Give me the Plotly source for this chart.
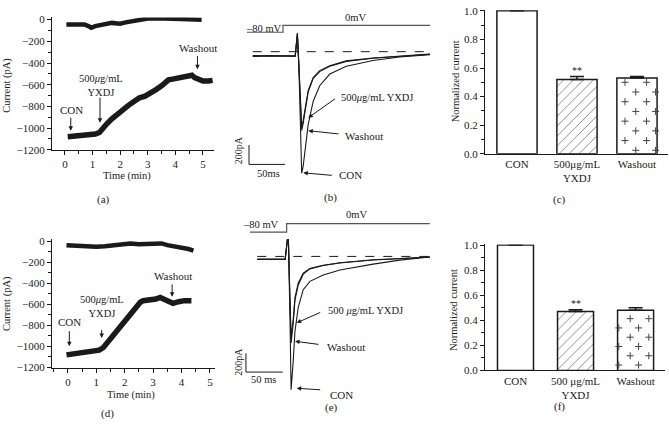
import plotly.graph_objects as go

W, H = 669, 426
FONT = "Liberation Serif"
INK = "#1a1a1a"

# ---------------- data ----------------
# (a) current (pA) versus time (min)
a_top_t = [0.05, 0.3, 0.5, 0.7, 0.85, 0.95, 1.1, 1.3, 1.5, 1.7, 1.9, 2.0, 2.2, 2.4, 2.6, 2.8, 3.0, 3.3, 3.6, 3.9, 4.2, 4.5, 4.8, 4.95]
a_top_i = [-45, -45, -40, -45, -60, -75, -60, -50, -40, -30, -35, -38, -25, -15, -2, 5, 10, 12, 15, 8, 5, 6, 2, 0]
a_bot_t = [0.1, 0.3, 0.6, 0.9, 1.1, 1.25, 1.35, 1.5, 1.7, 1.9, 2.1, 2.3, 2.5, 2.7, 2.9, 3.1, 3.3, 3.5, 3.65, 3.75, 3.9, 4.1, 4.3, 4.5, 4.6, 4.7, 4.85, 5.0, 5.2, 5.35]
a_bot_i = [-1080, -1075, -1068, -1062, -1055, -1040, -1005, -965, -915, -870, -830, -790, -755, -720, -705, -680, -645, -610, -580, -555, -548, -540, -530, -520, -512, -535, -555, -565, -565, -560]

# (d) current (pA) versus time (min)
d_top_t = [-0.05, 0.3, 0.6, 1.0, 1.3, 1.6, 2.0, 2.2, 2.5, 2.8, 3.1, 3.3, 3.5, 3.8, 4.05, 4.25, 4.42]
d_top_i = [-38, -45, -50, -52, -48, -40, -30, -22, -30, -30, -28, -22, -38, -50, -65, -75, -90]
d_bot_t = [-0.05, 0.2, 0.5, 0.8, 1.1, 1.25, 1.4, 1.6, 1.8, 2.0, 2.2, 2.4, 2.55, 2.65, 2.9, 3.1, 3.25, 3.45, 3.7, 3.9, 4.1, 4.35]
d_bot_i = [-1080, -1070, -1055, -1045, -1035, -1010, -960, -905, -840, -775, -705, -635, -580, -565, -560, -550, -535, -560, -590, -575, -565, -566]

# (b) current traces (ms, pA) and voltage protocol (ms, mV)
b_t = [-42, -18, 17, 19, 20, 22, 24, 26, 28, 31, 35, 42, 51, 65, 88, 125, 162, 204]
b_con = [-40, -45, -40, 190, 190, -130, -730, -1250, -1180, -1010, -750, -510, -350, -230, -150, -90, -55, -30]
b_yxdj = [-45, -40, -45, 190, 190, -130, -480, -770, -710, -560, -400, -265, -195, -145, -95, -65, -45, -25]
b_wash = [-50, -45, -50, 170, 170, -140, -500, -810, -740, -590, -415, -275, -205, -150, -100, -68, -47, -27]
b_prot_t = [-50, 0, 0, 204]
b_prot_v = [-80, -80, 0, 0]

# (e) current traces (ms, pA) and voltage protocol (ms, mV)
e_t = [-40, -23, -2, 1, 2.4, 4.5, 6.1, 9, 11.3, 15.8, 22.6, 31.7, 49.8, 72.5, 95.2, 117.8, 154, 195]
e_con = [-31, -34, -31, 175, 175, -642, -1414, -1105, -796, -539, -353, -264, -196, -144, -109, -82, -39, -6]
e_yxdj = [-31, -34, -31, 175, 175, -436, -865, -662, -436, -281, -178, -127, -93, -68, -49, -36, -22, -6]
e_wash = [-31, -34, -31, 175, 175, -467, -917, -703, -467, -302, -188, -132, -96, -70, -52, -38, -24, -7]
e_prot_t = [-50, 0, 0, 195]
e_prot_v = [-80, -80, 0, 0]

SCALE_MS = 50
SCALE_PA = 200

# (c), (f) normalized current
c_labels = ["CON", "500μg/mL<br>YXDJ", "Washout"]
c_vals = [1.0, 0.52, 0.53]
c_err = [0.0, 0.02, 0.01]
f_labels = ["CON", "500 μg/mL<br>YXDJ", "Washout"]
f_vals = [1.0, 0.47, 0.48]
f_err = [0.0, 0.015, 0.02]

time_ticks = [0, 1, 2, 3, 4, 5]
cur_ticks = [0, -200, -400, -600, -800, -1000, -1200]
norm_ticks = [0.0, 0.2, 0.4, 0.6, 0.8, 1.0]


# ---------------- helpers ----------------
def PX(px):
    return px / W


def PY(py):
    return 1 - py / H


def txt(text, px, py, size=11, xanchor="center", angle=0):
    return dict(text=text, xref="paper", yref="paper", x=PX(px), y=PY(py),
                showarrow=False, xanchor=xanchor, yanchor="middle", textangle=angle,
                font=dict(family=FONT, size=size, color=INK))


def arrow_px(hx, hy, tx, ty):
    return dict(text="", xref="paper", yref="paper", x=PX(hx), y=PY(hy),
                axref="pixel", ayref="pixel", ax=tx - hx, ay=ty - hy,
                showarrow=True, arrowhead=2, arrowsize=0.9, arrowwidth=1,
                arrowcolor=INK, standoff=0)


def arrow_data(xr, yr, x, y_head, y_tail):
    return dict(text="", xref=xr, yref=yr, x=x, y=y_head, axref=xr, ayref=yr,
                ax=x, ay=y_tail, showarrow=True, arrowhead=2, arrowsize=0.9,
                arrowwidth=1, arrowcolor=INK, standoff=0)


def dtext(xr, yr, text, x, y, size=11):
    return dict(text=text, xref=xr, yref=yr, x=x, y=y, showarrow=False,
                xanchor="center", yanchor="middle",
                font=dict(family=FONT, size=size, color=INK))


def plus_grid(xc, top, first_gap, dy, offs_a, offs_b):
    xs, ys = [], []
    k = 0
    y = top - first_gap
    while y > dy * 0.25:
        offs = offs_a if k % 2 == 0 else offs_b
        for o in offs:
            xs.append(xc + o)
            ys.append(y)
        k += 1
        y -= dy
    return xs, ys


tickfont = dict(family=FONT, size=11, color=INK)
axis_base = dict(showline=True, linecolor=INK, linewidth=1, ticks="outside", ticklen=4,
                 tickwidth=1, tickcolor=INK, showgrid=False, zeroline=False,
                 tickfont=tickfont, fixedrange=True)
hidden = dict(visible=False, showgrid=False, zeroline=False, fixedrange=True)

fig = go.Figure()

# ---------- (a) ----------
for t, i, w in ((a_top_t, a_top_i, 4.5), (a_bot_t, a_bot_i, 5.5)):
    fig.add_trace(go.Scatter(x=t, y=i, mode="lines", line=dict(color=INK, width=w),
                             xaxis="x", yaxis="y", hoverinfo="skip"))
# ---------- (d) ----------
for t, i, w in ((d_top_t, d_top_i, 4.5), (d_bot_t, d_bot_i, 5.5)):
    fig.add_trace(go.Scatter(x=t, y=i, mode="lines", line=dict(color=INK, width=w),
                             xaxis="x4", yaxis="y5", hoverinfo="skip"))

# ---------- (b) ----------
for tr in (b_con, b_yxdj, b_wash):
    fig.add_trace(go.Scatter(x=b_t, y=tr, mode="lines", line=dict(color=INK, width=1.1),
                             xaxis="x2", yaxis="y2", hoverinfo="skip"))
fig.add_trace(go.Scatter(x=b_prot_t, y=b_prot_v, mode="lines", line=dict(color="#555", width=1.2),
                         xaxis="x2", yaxis="y3", hoverinfo="skip"))
# ---------- (e) ----------
for tr in (e_con, e_yxdj, e_wash):
    fig.add_trace(go.Scatter(x=e_t, y=tr, mode="lines", line=dict(color=INK, width=1.1),
                             xaxis="x5", yaxis="y6", hoverinfo="skip"))
fig.add_trace(go.Scatter(x=e_prot_t, y=e_prot_v, mode="lines", line=dict(color="#555", width=1.2),
                         xaxis="x5", yaxis="y7", hoverinfo="skip"))


# ---------- (c), (f) bars ----------
def add_bars(vals, errs, xr, yr, width, plus):
    fig.add_trace(go.Bar(
        x=[0, 1, 2], y=vals, width=width, xaxis=xr, yaxis=yr, hoverinfo="skip",
        marker=dict(color="white", line=dict(color=INK, width=1.5),
                    pattern=dict(shape=["", "/", ""], fgcolor=INK, bgcolor="white",
                                 size=7, solidity=0.14)),
        error_y=dict(type="data", array=errs, arrayminus=[0, 0, 0], symmetric=False,
                     color=INK, thickness=1.5, width=7)))
    xs, ys = plus_grid(2, vals[2], *plus)
    fig.add_trace(go.Scatter(x=xs, y=ys, mode="markers", xaxis=xr, yaxis=yr, hoverinfo="skip",
                             marker=dict(symbol="cross-thin", size=5,
                                         line=dict(color="#444", width=1))))


add_bars(c_vals, c_err, "x3", "y4", 0.67, (0.03, 0.068, [-0.2, 0.16], [-0.02, 0.31]))
add_bars(f_vals, f_err, "x6", "y8", 0.6, (0.067, 0.074, [-0.09, 0.22], [-0.28, 0.05]))

layout = dict(
    width=W, height=H, margin=dict(l=0, r=0, t=0, b=0),
    paper_bgcolor="white", plot_bgcolor="white", showlegend=False, bargap=0,
    # (a)
    xaxis=dict(axis_base, domain=[PX(52), PX(214)], range=[-0.47, 5.4], anchor="y",
               tickvals=time_ticks, minor=dict(dtick=0.5, ticklen=3, ticks="outside", tickcolor=INK)),
    yaxis=dict(axis_base, domain=[PY(148), PY(11.8)], range=[-1200, 20], anchor="x",
               tickvals=cur_ticks, minor=dict(dtick=100, ticklen=3, ticks="outside", tickcolor=INK)),
    # (b)
    xaxis2=dict(hidden, domain=[PX(240), PX(430)], range=[-59.7, 204.2], anchor="y2"),
    yaxis2=dict(hidden, domain=[PY(200), PY(5)], range=[-1530, 420], anchor="x2"),
    yaxis3=dict(hidden, overlaying="y2", range=[-2057, 171.4], anchor="x2"),
    # (c)
    xaxis3=dict(axis_base, domain=[PX(485), PX(668)], range=[-0.533, 2.517], anchor="y4",
                tickvals=[0, 1, 2], ticktext=c_labels, ticks=""),
    yaxis4=dict(axis_base, domain=[PY(152), PY(152 - 147 * 1.005)], range=[0, 1.005], anchor="x3",
                tickvals=norm_ticks, tickformat=".1f",
                minor=dict(dtick=0.1, ticklen=3, ticks="outside", tickcolor=INK)),
    # (d)
    xaxis4=dict(axis_base, domain=[PX(52), PX(215)], range=[-0.56, 5.18], anchor="y5",
                tickvals=time_ticks, minor=dict(dtick=0.5, ticklen=3, ticks="outside", tickcolor=INK)),
    yaxis5=dict(axis_base, domain=[PY(372), PY(239.8)], range=[-1200, 20], anchor="x4",
                tickvals=cur_ticks, minor=dict(dtick=100, ticklen=3, ticks="outside", tickcolor=INK)),
    # (e)
    xaxis5=dict(hidden, domain=[PX(240), PX(430)], range=[-63.5, 195.2], anchor="y6"),
    yaxis6=dict(hidden, domain=[PY(410), PY(210)], range=[-1569, 491], anchor="x5"),
    yaxis7=dict(hidden, overlaying="y6", range=[-1710, 128.7], anchor="x5"),
    # (f)
    xaxis6=dict(axis_base, domain=[PX(485), PX(665)], range=[-0.508, 2.49], anchor="y8",
                tickvals=[0, 1, 2], ticktext=f_labels, ticks=""),
    yaxis8=dict(axis_base, domain=[PY(375), PY(375 - 129 * 1.005)], range=[0, 1.005], anchor="x6",
                tickvals=norm_ticks, tickformat=".1f",
                minor=dict(dtick=0.1, ticklen=3, ticks="outside", tickcolor=INK)),
)
fig.update_layout(**layout)

# ---------- shapes: zero-current dashed lines and scale bars ----------
shapes = []
for xr, yr, tt in (("x2", "y2", b_t), ("x5", "y6", e_t)):
    shapes.append(dict(type="line", xref=xr, yref=yr, x0=min(tt), x1=max(tt), y0=0, y1=0,
                       line=dict(color=INK, width=1, dash="dash")))
for xr, yr, x0, y0 in (("x2", "y2", -47.2, -1160), ("x5", "y6", -55.4, -1226)):
    shapes.append(dict(type="line", xref=xr, yref=yr, x0=x0, x1=x0, y0=y0, y1=y0 + SCALE_PA,
                       line=dict(color=INK, width=1)))
    shapes.append(dict(type="line", xref=xr, yref=yr, x0=x0, x1=x0 + SCALE_MS, y0=y0, y1=y0,
                       line=dict(color=INK, width=1)))
fig.update_layout(shapes=shapes)

ann = []
# (a) labels & arrows
ann += [arrow_data("x", "y", 0.21, -1025, -890), dtext("x", "y", "CON", 0.23, -835),
        arrow_data("x", "y", 1.27, -950, -705),
        dtext("x", "y", "500<i>μ</i>g/mL<br>YXDJ", 1.3, -605, 10.5),
        arrow_data("x", "y", 4.8, -457, -322), dtext("x", "y", "Washout", 4.82, -263)]
# (d) labels & arrows
ann += [arrow_data("x4", "y5", 0.05, -997, -840), dtext("x4", "y5", "CON", 0.07, -766),
        arrow_data("x4", "y5", 1.19, -920, -828),
        dtext("x4", "y5", "500<i>μ</i>g/mL<br>YXDJ", 1.19, -617, 10.5),
        arrow_data("x4", "y5", 3.67, -529, -397), dtext("x4", "y5", "Washout", 3.69, -335)]
# axis titles
ann += [txt("Current (pA)", 7, 82, 10.5, angle=-90), txt("Time (min)", 127, 175, 10.5),
        txt("Current (pA)", 7, 306.7, 10.5, angle=-90), txt("Time (min)", 131, 400, 10.5),
        txt("Normalized current", 455, 77.5, 10.5, angle=-90),
        txt("Normalized current", 453.3, 312.5, 10.5, angle=-90)]
# significance marks
ann += [dtext("x3", "y4", "**", 1, 0.58, 10), dtext("x6", "y8", "**", 1, 0.53, 10)]
# (b) texts
ann += [txt("–80 mV", 264, 23.3, 10.5), txt("0mV", 355, 11.7, 10.5),
        txt("200pA", 238.5, 148, 10, angle=-90), txt("50ms", 268, 172.7, 10.5),
        txt("500<i>μ</i>g/mL YXDJ", 339.3, 94, 10.5, xanchor="left"), arrow_px(308.3, 115, 336.5, 95),
        txt("Washout", 343.3, 133.3, 11, xanchor="left"), arrow_px(308.3, 128.3, 340, 131.7),
        txt("CON", 336.7, 174.3, 11, xanchor="left"), arrow_px(303.3, 171.7, 333.3, 174.3)]
# (e) texts
ann += [txt("–80 mV", 260.8, 225, 10.5), txt("0mV", 356.7, 215, 10.5),
        txt("200pA", 239, 366, 10, angle=-90), txt("50 ms", 263.7, 384, 10.5),
        txt("500 <i>μ</i>g/mL YXDJ", 326, 313.3, 10.5, xanchor="left"), arrow_px(296.7, 326, 321.7, 315),
        txt("Washout", 325, 351, 11, xanchor="left"), arrow_px(295, 345, 320, 348.3),
        txt("CON", 328.3, 400, 11, xanchor="left"), arrow_px(296.7, 393.3, 321.7, 395)]
# panel letters
ann += [txt("(a)", 104, 199, 11), txt("(b)", 330, 197.3, 11), txt("(c)", 559, 199, 11),
        txt("(d)", 107, 419, 11), txt("(e)", 331.7, 412.7, 11), txt("(f)", 559, 412, 11)]
fig.update_layout(annotations=ann)

fig.write_html("out.html", config={"displayModeBar": False, "staticPlot": True},
               post_script="document.body.style.margin='0';document.body.style.overflow='hidden';")
